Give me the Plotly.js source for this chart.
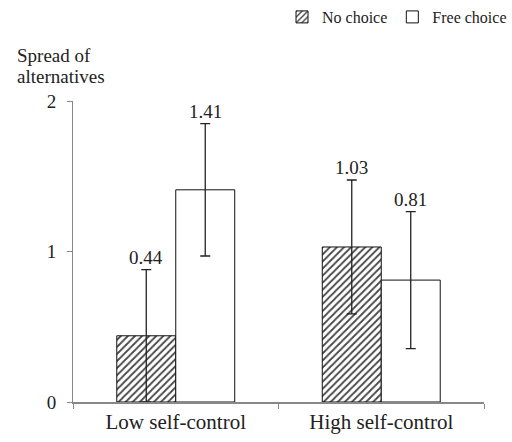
<!DOCTYPE html>
<html>
<head>
<meta charset="utf-8">
<script src="https://cdn.plot.ly/plotly-3.0.1.min.js"></script>
<style>html,body{margin:0;padding:0;background:#fff;}#chart{width:512px;height:442px;}</style>
</head>
<body>
<div id="chart"></div>
<script>
var categories = ["Low self-control", "High self-control"];
var seriesNames = ["No choice", "Free choice"];
var noChoice = [0.44, 1.03];
var noChoiceErr = [0.44, 0.445];
var freeChoice = [1.41, 0.81];
var freeChoiceErr = [0.44, 0.455];
var labelsNo = ["0.44", "1.03"];
var labelsFree = ["1.41", "0.81"];
var yTicks = [0, 1, 2];
var yTickLabels = ["0", "1", "2"];
var yTitleLines = ["Spread of", "alternatives"];

var fam = "Liberation Serif, Times New Roman, serif";
var col = "#222";
var tickFont = {family: fam, size: 21, color: col};
var yTickFont = {family: fam, size: 19, color: col};
var labelFont = {family: fam, size: 19, color: col};
var legendFont = {family: fam, size: 16, color: col};
var titleFont = {family: fam, size: 19, color: col};

var traces = [
  {
    type: "bar", name: seriesNames[0], x: categories, y: noChoice,
    marker: {color: "#fff", line: {color: "#111", width: 1},
      pattern: {shape: "/", fgcolor: "#444", bgcolor: "#fff", size: 5, solidity: 0.35}},
    error_y: {type: "data", array: noChoiceErr, visible: true, color: "#222", thickness: 1.3, width: 5}
  },
  {
    type: "bar", name: seriesNames[1], x: categories, y: freeChoice,
    marker: {color: "#fff", line: {color: "#111", width: 1}},
    error_y: {type: "data", array: freeChoiceErr, visible: true, color: "#222", thickness: 1.3, width: 5}
  }
];

var annotations = [];
function addLabels(vals, errs, labs, xshift) {
  for (var i = 0; i < vals.length; i++) {
    annotations.push({
      x: categories[i], y: vals[i] + errs[i], xref: "x", yref: "y",
      text: labs[i], showarrow: false, yanchor: "bottom", xshift: xshift, yshift: 0,
      font: labelFont
    });
  }
}
addLabels(noChoice, noChoiceErr, labelsNo, -29.5);
addLabels(freeChoice, freeChoiceErr, labelsFree, 29.5);
for (var k = 0; k < yTitleLines.length; k++) {
  annotations.push({
    xref: "paper", yref: "paper", x: -0.141, y: 1, xanchor: "left", yanchor: "middle",
    yshift: 46 - 21 * k, align: "left", showarrow: false, text: yTitleLines[k],
    font: titleFont
  });
}

var layout = {
  width: 512, height: 442,
  margin: {l: 73, r: 28, t: 101, b: 40},
  paper_bgcolor: "#fff", plot_bgcolor: "#fff",
  font: tickFont,
  barmode: "group", bargap: 0.426, bargroupgap: 0,
  showlegend: true,
  legend: {orientation: "h", xref: "container", yref: "container", x: 1, y: 1,
    xanchor: "right", yanchor: "top", font: legendFont, traceorder: "normal",
    itemwidth: 30, bgcolor: "rgba(0,0,0,0)"},
  xaxis: {
    showline: true, linecolor: "#888", linewidth: 2,
    ticks: "outside", tickson: "boundaries", ticklen: 5, tickcolor: "#888", tickwidth: 1,
    tickfont: tickFont, showgrid: false, zeroline: false
  },
  yaxis: {
    range: [0, 2], tickvals: yTicks, ticktext: yTickLabels,
    showline: true, linecolor: "#888", linewidth: 1,
    ticks: "outside", ticklen: 5, tickcolor: "#888",
    tickfont: yTickFont, showgrid: false, zeroline: false, ticklabelstandoff: 7
  },
  annotations: annotations
};

Plotly.newPlot("chart", traces, layout, {displayModeBar: false, staticPlot: true});
</script>
</body>
</html>
